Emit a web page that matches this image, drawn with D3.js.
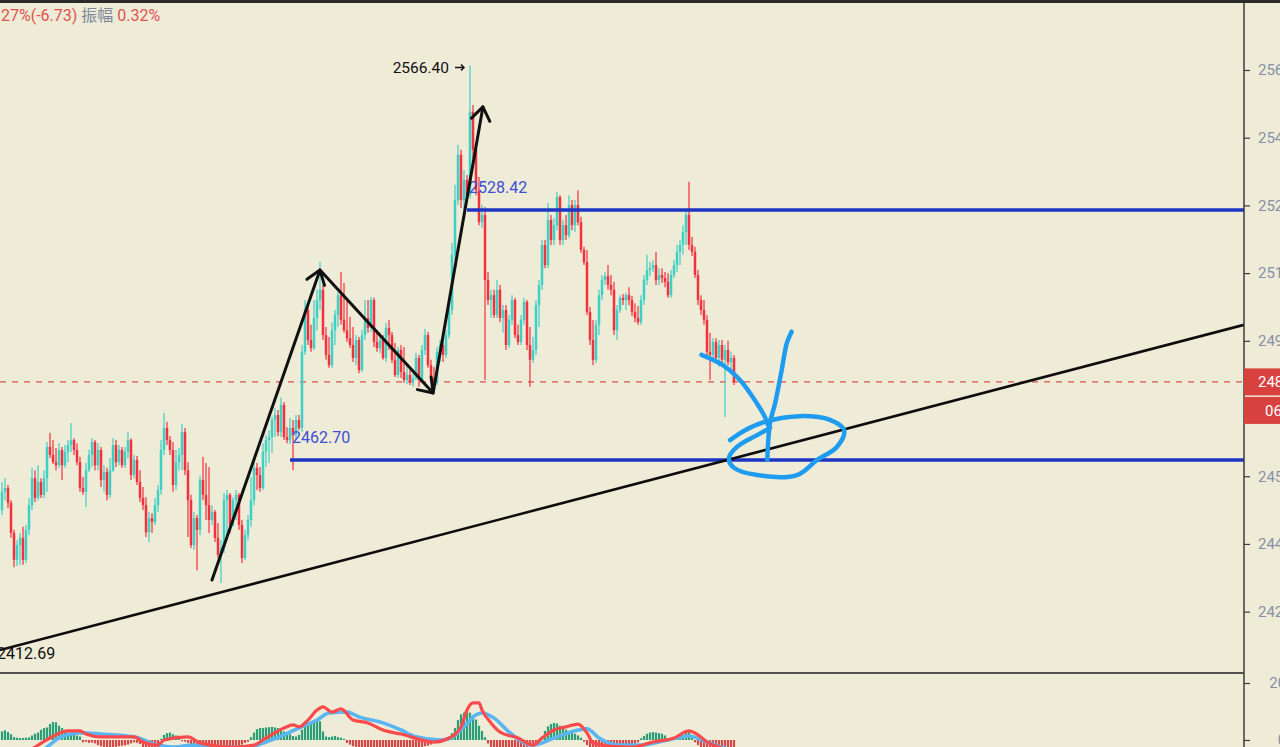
<!DOCTYPE html>
<html><head><meta charset="utf-8">
<script src="https://cdn.jsdelivr.net/npm/d3@7"></script>
<style>
html,body{margin:0;padding:0;background:#eeecd7;overflow:hidden}
svg{display:block}
text{font-family:Roboto,"Noto Sans CJK SC",sans-serif}
</style></head><body>
<svg id="chart" width="1280" height="747"></svg>
<script>
// ---------- DATA ----------
// candles: [open, high, low, close]
const candles = [
[2449.5,2456.9,2448.2,2454.3],[2454.3,2457.9,2452.1,2455.3],[2455.3,2456.1,2450.0,2451.4],[2451.4,2452.1,2442.2,2443.5],
[2443.5,2444.3,2434.5,2436.4],[2436.4,2441.6,2434.8,2440.3],[2440.3,2443.5,2435.1,2442.2],[2442.2,2445.1,2435.1,2436.4],
[2436.4,2445.6,2435.6,2444.3],[2444.3,2452.7,2442.9,2450.8],[2450.8,2460.6,2449.5,2457.9],[2457.9,2460.0,2451.6,2452.7],
[2452.7,2461.3,2452.1,2456.9],[2456.9,2457.9,2452.7,2453.5],[2453.5,2460.0,2452.7,2457.9],[2457.9,2467.4,2454.3,2466.1],
[2466.1,2469.8,2463.2,2464.0],[2464.0,2467.9,2461.6,2462.1],[2462.1,2465.8,2460.0,2461.3],[2461.3,2467.1,2460.6,2465.3],
[2465.3,2466.1,2457.4,2461.3],[2461.3,2466.6,2460.6,2464.8],[2464.8,2467.9,2462.1,2466.6],[2466.6,2472.4,2464.8,2467.9],
[2467.9,2468.4,2464.0,2465.3],[2465.3,2467.1,2461.3,2462.1],[2462.1,2463.5,2454.3,2455.3],[2455.3,2458.2,2453.5,2454.3],
[2454.3,2461.9,2450.3,2460.0],[2460.0,2465.3,2459.5,2464.0],[2464.0,2468.4,2460.8,2467.4],[2467.4,2467.9,2460.0,2461.3],
[2461.3,2467.1,2460.0,2465.3],[2465.3,2466.1,2455.6,2457.4],[2457.4,2461.3,2454.3,2459.5],[2459.5,2460.6,2452.1,2453.5],
[2453.5,2463.2,2452.7,2460.0],[2460.0,2468.4,2459.5,2466.6],[2466.6,2467.9,2460.8,2462.1],[2462.1,2466.6,2461.3,2465.3],
[2465.3,2466.1,2460.6,2461.3],[2461.3,2466.1,2460.6,2464.8],[2464.8,2470.0,2463.2,2467.9],[2467.9,2468.4,2457.4,2458.7],
[2458.7,2464.0,2457.9,2462.7],[2462.7,2463.7,2456.1,2456.9],[2456.9,2460.0,2451.6,2452.7],[2452.7,2455.6,2449.5,2450.8],
[2450.8,2452.9,2442.4,2443.7],[2443.7,2449.0,2441.1,2447.4],[2447.4,2448.7,2443.5,2446.4],[2446.4,2452.7,2445.6,2450.8],
[2450.8,2456.1,2449.0,2454.8],[2454.8,2467.9,2453.5,2465.3],[2465.3,2475.0,2464.0,2471.1],[2471.1,2472.7,2466.6,2467.9],
[2467.9,2469.0,2464.0,2465.3],[2465.3,2467.4,2454.3,2456.1],[2456.1,2465.3,2454.8,2462.1],[2462.1,2465.8,2460.0,2464.0],
[2464.0,2472.1,2460.0,2470.0],[2470.0,2471.1,2458.7,2460.0],[2460.0,2462.1,2442.4,2452.1],[2452.1,2453.5,2439.5,2440.3],
[2440.3,2449.0,2439.0,2447.4],[2447.4,2448.2,2433.7,2444.3],[2444.3,2458.5,2442.9,2457.4],[2457.4,2463.5,2452.1,2453.5],
[2453.5,2461.9,2446.9,2450.8],[2450.8,2460.8,2443.5,2446.9],[2446.9,2450.8,2445.6,2449.0],[2449.0,2449.5,2441.1,2442.2],
[2442.2,2446.1,2436.9,2437.7],[2437.7,2441.6,2430.3,2439.5],[2439.5,2454.0,2438.2,2452.1],[2452.1,2454.8,2441.6,2453.5],
[2453.5,2454.0,2443.5,2445.6],[2445.6,2452.9,2445.1,2452.1],[2452.1,2454.8,2446.9,2453.5],[2453.5,2454.0,2444.3,2445.6],
[2445.6,2446.9,2435.6,2436.9],[2436.9,2444.3,2436.4,2442.9],[2442.9,2448.2,2441.6,2446.9],[2446.9,2458.2,2445.1,2452.1],
[2452.1,2462.1,2450.8,2460.6],[2460.6,2461.9,2454.8,2458.7],[2458.7,2460.8,2454.3,2455.3],[2455.3,2467.1,2454.8,2464.8],
[2464.8,2469.2,2460.8,2467.9],[2467.9,2470.5,2461.9,2468.7],[2468.7,2474.0,2464.5,2473.2],[2473.2,2476.3,2468.7,2474.5],
[2474.5,2475.8,2469.0,2470.0],[2470.0,2479.0,2468.7,2477.1],[2477.1,2477.9,2467.9,2468.7],[2468.7,2471.3,2467.1,2467.9],
[2467.9,2473.7,2466.9,2471.1],[2471.1,2473.2,2460.0,2469.2],[2469.2,2474.5,2467.9,2473.2],[2473.2,2474.5,2470.5,2471.1],
[2471.1,2492.9,2470.0,2491.1],[2491.1,2504.7,2490.3,2502.1],[2502.1,2503.4,2492.9,2494.2],[2494.2,2498.2,2491.1,2492.1],
[2492.1,2504.7,2491.6,2500.0],[2500.0,2507.4,2496.8,2504.7],[2504.7,2514.7,2502.1,2507.4],[2507.4,2508.7,2494.2,2495.5],
[2495.5,2497.6,2489.0,2490.3],[2490.3,2495.0,2486.9,2487.6],[2487.6,2498.9,2486.9,2496.8],[2496.8,2502.1,2492.9,2500.8],
[2500.8,2506.8,2497.6,2506.0],[2506.0,2512.1,2498.2,2499.5],[2499.5,2509.2,2496.1,2496.8],[2496.8,2504.7,2493.7,2494.7],
[2494.7,2500.3,2492.1,2492.9],[2492.9,2497.6,2488.4,2489.5],[2489.5,2495.5,2487.6,2494.2],[2494.2,2495.0,2485.5,2486.3],
[2486.3,2496.8,2485.8,2495.5],[2495.5,2504.7,2494.2,2500.0],[2500.0,2504.7,2496.1,2497.4],[2497.4,2505.5,2496.3,2504.7],
[2504.7,2505.3,2492.4,2493.7],[2493.7,2496.8,2491.1,2492.1],[2492.1,2496.1,2490.8,2494.2],[2494.2,2495.5,2489.0,2489.5],
[2489.5,2498.7,2488.4,2497.4],[2497.4,2499.5,2491.6,2495.5],[2495.5,2496.3,2488.2,2489.0],[2489.0,2493.4,2484.5,2485.0],
[2485.0,2492.4,2484.2,2491.6],[2491.6,2492.9,2484.2,2485.8],[2485.8,2492.4,2482.9,2483.7],[2483.7,2488.2,2482.6,2485.0],
[2485.0,2486.3,2482.4,2483.2],[2483.2,2485.5,2481.9,2484.2],[2484.2,2490.8,2483.7,2489.5],[2489.5,2490.3,2481.9,2483.7],
[2483.7,2492.9,2482.9,2491.6],[2491.6,2497.1,2490.3,2495.5],[2495.5,2496.3,2486.9,2487.6],[2487.6,2489.0,2483.2,2484.2],
[2484.2,2487.1,2482.1,2482.9],[2482.9,2492.4,2482.4,2491.1],[2491.1,2494.2,2488.4,2492.9],[2492.9,2494.2,2488.4,2490.3],
[2490.3,2496.8,2489.5,2495.5],[2495.5,2504.7,2494.7,2502.1],[2502.1,2519.7,2500.8,2516.6],[2516.6,2535.0,2515.2,2531.0],
[2531.0,2545.5,2529.7,2542.9],[2542.9,2544.2,2528.9,2531.0],[2531.0,2538.9,2528.4,2536.3],[2536.3,2537.6,2531.0,2532.3],
[2532.3,2566.4,2531.5,2554.2],[2554.2,2556.0,2542.1,2544.2],[2544.2,2545.5,2532.3,2533.6],[2533.6,2537.1,2524.4,2525.2],
[2525.2,2529.7,2523.7,2527.1],[2527.1,2529.2,2483.7,2510.0],[2510.0,2512.1,2503.4,2504.7],[2504.7,2507.4,2500.0,2506.0],
[2506.0,2507.4,2500.0,2500.8],[2500.8,2510.0,2500.0,2507.4],[2507.4,2508.7,2498.9,2500.0],[2500.0,2503.4,2496.1,2502.1],
[2502.1,2503.4,2491.6,2492.9],[2492.9,2500.8,2492.1,2499.5],[2499.5,2506.0,2498.2,2504.7],[2504.7,2505.3,2494.7,2495.5],
[2495.5,2498.2,2492.9,2493.7],[2493.7,2500.8,2492.9,2499.5],[2499.5,2505.3,2498.2,2504.2],[2504.2,2504.7,2491.6,2492.9],
[2492.9,2497.6,2481.9,2489.0],[2489.0,2495.0,2488.2,2491.6],[2491.6,2504.7,2490.3,2503.4],[2503.4,2510.0,2497.6,2508.7],
[2508.7,2520.5,2507.4,2519.2],[2519.2,2520.5,2513.1,2513.9],[2513.9,2530.2,2513.1,2525.8],[2525.8,2527.1,2519.2,2520.5],
[2520.5,2526.3,2519.2,2524.4],[2524.4,2533.1,2523.1,2531.8],[2531.8,2532.3,2519.2,2520.5],[2520.5,2525.8,2519.2,2524.4],
[2524.4,2527.1,2520.5,2521.8],[2521.8,2532.3,2521.0,2529.7],[2529.7,2531.0,2523.1,2524.4],[2524.4,2531.0,2522.6,2529.7],
[2529.7,2533.6,2524.4,2525.2],[2525.2,2526.6,2517.1,2517.9],[2517.9,2518.7,2513.9,2514.7],[2514.7,2517.9,2500.8,2501.6],
[2501.6,2502.9,2492.9,2494.2],[2494.2,2499.5,2487.6,2489.0],[2489.0,2499.5,2488.2,2498.2],[2498.2,2507.4,2495.5,2506.0],
[2506.0,2511.3,2504.7,2510.0],[2510.0,2512.1,2508.7,2511.0],[2511.0,2513.9,2507.4,2508.7],[2508.7,2511.3,2506.0,2507.4],
[2507.4,2509.5,2495.5,2496.8],[2496.8,2503.4,2494.2,2502.1],[2502.1,2506.0,2501.3,2505.3],[2505.3,2506.3,2503.4,2504.7],
[2504.7,2506.6,2502.1,2506.0],[2506.0,2508.1,2503.4,2504.7],[2504.7,2505.8,2500.5,2501.6],[2501.6,2503.9,2498.9,2500.0],
[2500.0,2503.2,2498.2,2498.9],[2498.9,2506.0,2498.2,2504.7],[2504.7,2511.3,2503.4,2510.0],[2510.0,2516.6,2508.7,2512.6],
[2512.6,2514.7,2511.0,2513.1],[2513.1,2515.2,2512.1,2513.9],[2513.9,2517.4,2508.7,2510.0],[2510.0,2513.1,2508.7,2511.3],
[2511.3,2513.1,2509.2,2510.5],[2510.5,2512.1,2508.1,2509.5],[2509.5,2511.8,2505.3,2506.0],[2506.0,2512.6,2505.3,2511.3],
[2511.3,2515.2,2510.5,2513.9],[2513.9,2519.2,2512.1,2517.4],[2517.4,2520.5,2513.9,2519.2],[2519.2,2524.4,2516.6,2522.6],
[2522.6,2528.4,2519.2,2527.1],[2527.1,2535.8,2517.9,2519.2],[2519.2,2521.3,2516.3,2517.4],[2517.4,2518.7,2510.5,2511.3],
[2511.3,2512.6,2503.4,2504.7],[2504.7,2506.0,2500.8,2502.1],[2502.1,2504.7,2498.2,2499.5],[2499.5,2500.8,2490.0,2491.1],
[2491.1,2496.1,2483.7,2490.3],[2490.3,2494.7,2489.0,2493.7],[2493.7,2494.7,2488.4,2489.5],[2489.5,2494.2,2487.1,2492.9],
[2492.9,2494.2,2487.6,2489.0],[2489.0,2492.9,2474.0,2491.6],[2491.6,2494.0,2487.6,2488.4],[2488.4,2491.1,2486.3,2489.5],
[2489.5,2490.3,2482.4,2483.2]
];
// MACD histogram, one per candle
const macdHist = [
3.0,3.4,2.8,2.0, 1.0,0.8,0.7,0.7,0.8,0.9, 1.6,2.2,2.6, 3.6,4.2,4.4, 5.6,6.3,6.2,5.0, 4.2,3.4, 2.6,2.2,1.8, 1.6,1.2,
-0.8,-0.6,-1.0,-0.9,-1.2,
-1.8,-2.2,-2.4,-2.6,-2.5,-2.6,-2.4,-2.2,-2.0,-1.9,-1.6,-1.2,
-0.8,-1.0,-1.4, -2.5,-3.0,-3.2,-3.0,-2.8,-2.2,
0.4,1.8,2.4,2.6,2.0,1.6,0.8,
-0.4,-0.6,-1.0,-1.6,-2.2,-2.8,-2.6,-2.8,-3.0,-3.2,-3.4,-3.6,-3.8,-3.6,-3.0,-2.8,-2.6,-2.4,-2.0,-1.8,-1.6,-1.0,-0.6,
1.0,2.6,3.8,4.2,4.2,4.4,4.5,4.6,4.4,4.2,4.0,3.0,2.4,2.0,1.4,1.2,1.8,3.6,4.6,5.0,5.6,6.4,7.0,6.6,3.0,1.2,1.0,1.2,1.4,1.0,0.8,0.4,
-1.0,-1.6,-2.2,-2.4,-3.0,-3.0,-2.8,-2.8,-2.6,-2.8,-3.0,-3.0,-3.2,-3.0,-3.0,-3.2,-3.4,-3.2,
-3.0,-3.2,-3.4,-3.2,-3.0,-2.8,-2.6,-2.4,-2.2,-2.0,-1.6,-1.2,-0.6,-0.3,-0.2,0.3,0.6,
2.4,4.2,7.0,9.0,9.6,9.8,9.6,8.8,7.2,5.0,3.2,1.0,
-1.2,-2.4,-3.2,-3.6,-3.8,-4.0,-4.0,-3.8,-3.6,-3.4,-3.2,-3.0,-2.8,-2.6,-2.2,-1.6,-1.0,-0.4,
1.2,3.2,4.8,5.6,6.0,5.8,5.0,4.4,3.6,3.0,2.6,2.2,1.6,0.8,
-0.6,-1.8,-3.0,-3.6,-3.6,-3.4,-3.2,-3.0,-2.8,-2.6,-2.6,-2.4,-2.2,-2.0,-1.8,-1.6,-1.4,-1.2,-0.8,
0.6,1.4,2.2,2.6,2.8,2.6,2.4,2.2,1.6,0.6,
0.3,0.4,0.6,0.8,1.2,2.6,3.4,1.0,
-0.8,-1.8,-2.6,-3.2,-3.8,-4.2,-4.4,-4.4,-4.2,-4.0,-3.8,-3.6,-3.4,-3.4
];
// MACD lines sampled at candle indices: [index, value]
const difLine = [[0,-9],[6,-6],[11,-2.5],[16,0.7],[22,3.2],[26,3.2],[28,2.1],[33,1.1],[44,1.1],[47,-0.7],[52,-1.8],[54,0],
[62,1.1],[66,-1.0],[77,-2.5],[84,-1.8],[88,0.7],[94,4.2],[97,5.3],[99,4.6],[102,7.0],[105,10.5],[107,11.6],[110,9.8],
[113,10.9],[117,7.0],[122,6.0],[127,3.5],[133,2.1],[144,-0.7],[149,0.7],[153,4.6],[155,10.5],[157,13.0],[159,13.0],
[160,10.5],[163,6.0],[166,2.8],[172,0.7],[177,-1.8],[180,0.7],[184,3.5],[188,4.6],[192,5.6],[195,2.5],[197,-1.0],
[202,-2.1],[210,-2.5],[217,-0.7],[224,0.7],[229,3.2],[232,1.8],[235,-0.7],[239,-2.5],[244,-4.0]];
const deaLine = [[0,-10],[9,-6],[15,-2.5],[19,0.7],[26,2.5],[33,2.1],[44,1.1],[52,-1.8],[57,-2.5],[64,-1.8],[72,-2.5],
[82,-2.5],[88,-0.7],[94,1.8],[99,4.2],[105,7.0],[109,9.5],[115,9.8],[119,8.1],[127,6.0],[133,3.5],[138,1.1],[146,0],
[149,0.4],[154,4.6],[158,8.8],[160,9.5],[164,7.7],[169,2.8],[177,-1.8],[184,0.7],[192,3.5],[195,3.9],[199,0.7],
[206,-1.8],[213,-1.8],[222,0],[229,1.4],[235,-0.7],[240,-2.5],[244,-3.5]];

const priceTicks = [2565.2, 2547.4, 2529.6, 2511.8, 2494.0, 2458.4, 2440.6, 2422.8];
const macdTicks = [20, 0];
const lastPrice = 2483.20;
const countdown = "06:32";
const headerParts = [["27%(-6.73)", "#e0524f"], [" 振幅 ", "#7e879c"], ["0.32%", "#e0524f"]];
const levels = [{price: 2528.42, start: 155}, {price: 2462.70, start: 96}];
const highMark = {index: 156, price: 2566.40};
const trendLine = [[-0.67, 2412.69], [414, 2498.2]];
const zigzag = [[70, 2431.1], [106, 2512.6], [143.7, 2480.3], [160.3, 2555.5]];
const blueStroke1 = [[233.2,2490.3],[240.3,2487.6],[246,2483.7],[251.6,2477.6],[254.3,2474.0],[255.3,2471.9]];
const blueStroke2 = [[263.2,2496.4],[261.6,2493.4],[259.9,2486.3],[257.7,2477.6],[256,2472.4],[255.1,2462.7]];
const blueLoop = [[242.7,2467.9],[247.7,2470.5],[254.3,2472.7],[266,2474.2],[276,2473.2],[280.7,2470.5],[278.3,2466.1],
[271.7,2462.7],[265,2458.7],[251.7,2458.7],[243.7,2460.8],[242.3,2463.2],[245,2466.1],[251.7,2469.2],[256,2471.1]];

// ---------- DRAW ----------
const W = 1280, H = 747, axisX = 1244, mainBottom = 673;
const svg = d3.select("#chart");
const up = "#3ecfc5", down = "#f3303e";

const x = d3.scaleLinear().domain([0, candles.length - 1]).range([2, 734]);
const y = d3.scaleLinear().domain([2406.67, 2583.6]).range([mainBottom, 0]);
const ym = d3.scaleLinear().domain([-2.456, 23.51]).range([747, mainBottom]);

svg.append("rect").attr("width", W).attr("height", H).attr("fill", "#eeecd7");

const defs = svg.append("defs");
defs.append("clipPath").attr("id", "mainClip").append("rect").attr("x", 0).attr("y", 0).attr("width", axisX).attr("height", mainBottom);
defs.append("clipPath").attr("id", "macdClip").append("rect").attr("x", 0).attr("y", mainBottom + 1).attr("width", axisX).attr("height", H - mainBottom);

const main = svg.append("g").attr("clip-path", "url(#mainClip)");

// current price dashed line
main.append("line").attr("x1", 0).attr("x2", axisX).attr("y1", y(lastPrice)).attr("y2", y(lastPrice))
  .attr("stroke", "#d9504c").attr("stroke-width", 1.2).attr("stroke-dasharray", "6,6");

// candles
const cg = main.append("g");
cg.selectAll("line.wick").data(candles).join("line").attr("class", "wick")
  .attr("x1", (d, i) => x(i)).attr("x2", (d, i) => x(i))
  .attr("y1", d => y(d[1])).attr("y2", d => y(d[2]))
  .attr("stroke", d => d[3] >= d[0] ? up : down).attr("stroke-width", 1.2);
cg.selectAll("rect.body").data(candles).join("rect").attr("class", "body")
  .attr("x", (d, i) => x(i) - 1.25).attr("width", 2.5)
  .attr("y", d => y(Math.max(d[0], d[3])))
  .attr("height", d => Math.max(1, Math.abs(y(d[0]) - y(d[3]))))
  .attr("fill", d => d[3] >= d[0] ? up : down);

// horizontal levels
levels.forEach(l => {
  main.append("line").attr("x1", x(l.start)).attr("x2", axisX).attr("y1", y(l.price)).attr("y2", y(l.price))
    .attr("stroke", "#1e34c4").attr("stroke-width", 3.5);
  main.append("text").attr("x", x(l.start) + 2).attr("y", y(l.price) - 17).attr("font-size", 16)
    .attr("fill", "#3d4fd4").text(l.price.toFixed(2));
});

// trend line
const lineGen = d3.line().x(d => x(d[0])).y(d => y(d[1]));
main.append("path").attr("d", lineGen(trendLine)).attr("stroke", "#0d0d0d").attr("stroke-width", 2.6).attr("fill", "none");
main.append("text").attr("x", -3).attr("y", y(trendLine[0][1]) + 9).attr("font-size", 16).attr("fill", "#111")
  .text(trendLine[0][1].toFixed(2));

// high annotation
const hx = x(highMark.index), hy = y(highMark.price) + 2;
main.append("text").attr("x", hx - 21).attr("y", hy + 6).attr("text-anchor", "end").attr("font-size", 15.5)
  .attr("fill", "#111").text(highMark.price.toFixed(2));
main.append("path").attr("d", `M${hx - 15},${hy}L${hx - 6},${hy}M${hx - 9},${hy - 3}L${hx - 6},${hy}L${hx - 9},${hy + 3}`)
  .attr("stroke", "#111").attr("stroke-width", 1.5).attr("fill", "none");

// zigzag arrows
const zz = zigzag.map(d => [x(d[0]), y(d[1])]);
main.append("path").attr("d", d3.line()(zz)).attr("stroke", "#111").attr("stroke-width", 3)
  .attr("fill", "none").attr("stroke-linejoin", "round").attr("stroke-linecap", "round");
for (let k = 1; k < zz.length; k++) {
  const [x0, y0] = zz[k - 1], [x1, y1] = zz[k];
  const a = Math.atan2(y0 - y1, x0 - x1), L = 16, s = 0.62;
  const w1 = [x1 + L * Math.cos(a + s), y1 + L * Math.sin(a + s)];
  const w2 = [x1 + L * Math.cos(a - s), y1 + L * Math.sin(a - s)];
  main.append("path").attr("d", `M${w1}L${x1},${y1}L${w2}`).attr("stroke", "#111").attr("stroke-width", 3)
    .attr("fill", "none").attr("stroke-linejoin", "round").attr("stroke-linecap", "round");
}

// hand drawn blue marks
const curve = d3.line().x(d => x(d[0])).y(d => y(d[1])).curve(d3.curveCatmullRom);
[blueStroke1, blueStroke2, blueLoop].forEach(pts => {
  main.append("path").attr("d", curve(pts)).attr("stroke", "#1e9cf0").attr("stroke-width", 4.5)
    .attr("fill", "none").attr("stroke-linecap", "round").attr("stroke-linejoin", "round");
});

// ---------- MACD ----------
const mg = svg.append("g").attr("clip-path", "url(#macdClip)");
mg.selectAll("rect.h").data(macdHist).join("rect").attr("class", "h")
  .attr("x", (d, i) => x(i) - 1.1).attr("width", 2.2)
  .attr("y", d => d >= 0 ? ym(d) : ym(0))
  .attr("height", d => Math.abs(ym(d) - ym(0)))
  .attr("fill", d => d >= 0 ? "#2a9f77" : "#d34848");
const ml = d3.line().x(d => x(d[0])).y(d => ym(d[1])).curve(d3.curveMonotoneX);
mg.append("path").attr("d", ml(deaLine)).attr("stroke", "#5ab6f2").attr("stroke-width", 3.6).attr("fill", "none");
mg.append("path").attr("d", ml(difLine)).attr("stroke", "#fb4a4c").attr("stroke-width", 3.2).attr("fill", "none");

// separators and axis
svg.append("line").attr("x1", 0).attr("x2", axisX).attr("y1", mainBottom).attr("y2", mainBottom)
  .attr("stroke", "#4f4f4f").attr("stroke-width", 2);
svg.append("line").attr("x1", axisX).attr("x2", axisX).attr("y1", 0).attr("y2", H)
  .attr("stroke", "#3c3c3c").attr("stroke-width", 1.5);
svg.append("rect").attr("x", 0).attr("y", 0).attr("width", W).attr("height", 3).attr("fill", "#2b2b2b");

const ax = svg.append("g").attr("transform", `translate(${axisX},0)`)
  .call(d3.axisRight(y).tickValues(priceTicks).tickFormat(d3.format(".2f")).tickSize(6).tickPadding(8));
ax.select(".domain").remove();
ax.selectAll("line").attr("stroke", "#3c3c3c").attr("stroke-width", 1.2);
ax.selectAll("text").attr("fill", "#8690a8").attr("font-size", 15).attr("font-family", "Roboto, sans-serif");

const axm = svg.append("g").attr("transform", `translate(${axisX},0)`)
  .call(d3.axisRight(ym).tickValues(macdTicks).tickFormat(d3.format(".2f")).tickSize(6).tickPadding(8));
axm.select(".domain").remove();
axm.selectAll("line").attr("stroke", "#3c3c3c").attr("stroke-width", 1.2);
axm.selectAll("text").attr("fill", "#8690a8").attr("font-size", 15).attr("font-family", "Roboto, sans-serif")
  .attr("text-anchor", "end").attr("x", 63);

// price label boxes
const ly = y(lastPrice);
svg.append("rect").attr("x", axisX).attr("y", ly - 13.5).attr("width", W - axisX).attr("height", 27).attr("fill", "#d8413d");
svg.append("rect").attr("x", axisX).attr("y", ly + 15).attr("width", W - axisX).attr("height", 27).attr("fill", "#d8413d");
svg.append("text").attr("x", 1258).attr("y", ly + 5.5).attr("font-size", 15).attr("fill", "#fff").text(lastPrice.toFixed(2));
svg.append("text").attr("x", 1265).attr("y", ly + 34).attr("font-size", 15).attr("fill", "#fff").text(countdown);

// header
const ht = svg.append("text").attr("x", 1).attr("y", 21).attr("font-size", 16).attr("xml:space", "preserve");
headerParts.forEach(p => ht.append("tspan").attr("fill", p[1]).text(p[0]));
</script>
</body></html>
